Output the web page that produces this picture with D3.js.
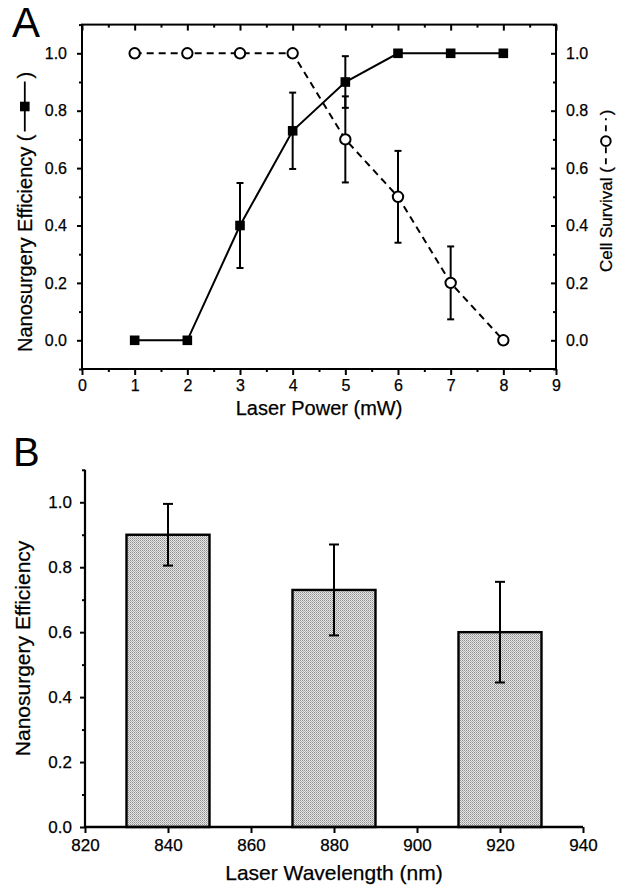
<!DOCTYPE html>
<html><head><meta charset="utf-8">
<script src="https://cdn.jsdelivr.net/npm/d3@7"></script>
<style>
html,body{margin:0;padding:0;background:#fff;}
svg{display:block;font-family:"Liberation Sans",Arial,sans-serif;}
</style></head>
<body>
<svg id="chart" width="623" height="886"></svg>
<script>
// ---- Panel A data ----
const powers = [1, 2, 3, 4, 5, 6, 7, 8];
const efficiency = [0, 0, 0.4, 0.73, 0.9, 1, 1, 1];
const efficiencyErr = [0, 0, 0.148, 0.133, 0.09, 0, 0, 0];
const survival = [1, 1, 1, 1, 0.7, 0.5, 0.2, 0];
const survivalErr = [0, 0, 0, 0, 0.15, 0.16, 0.127, 0];
const powerTicks = [0, 1, 2, 3, 4, 5, 6, 7, 8, 9];
const powerMinor = [0.5, 1.5, 2.5, 3.5, 4.5, 5.5, 6.5, 7.5, 8.5];
const fracTicks = [0, 0.2, 0.4, 0.6, 0.8, 1.0];
const fracMinorA = [-0.1, 0.1, 0.3, 0.5, 0.7, 0.9, 1.1];
// ---- Panel B data ----
const wavelengths = [840, 880, 920];
const wlEfficiency = [0.9, 0.73, 0.6];
const wlErr = [0.095, 0.14, 0.155];
const wlTicks = [820, 840, 860, 880, 900, 920, 940];
const fracMinorB = [0.1, 0.3, 0.5, 0.7, 0.9, 1.1];
const barWidthNm = 20;

const svg = d3.select("#chart");
const black = "#000";
const TICKF = 16, TITLEF = 20;

// pattern for bars
const defs = svg.append("defs");
const pat = defs.append("pattern").attr("id", "grain").attr("width", 2).attr("height", 2)
  .attr("patternUnits", "userSpaceOnUse");
pat.append("rect").attr("width", 2).attr("height", 2).attr("fill", "#e6e6e6");
pat.append("rect").attr("width", 1).attr("height", 1).attr("fill", "#8e8e8e");
pat.append("rect").attr("x", 1).attr("y", 1).attr("width", 1).attr("height", 1).attr("fill", "#b0b0b0");

// ================= Panel A =================
const xA = d3.scaleLinear().domain([0, 9]).range([82, 556]);
const yA = d3.scaleLinear().domain([-0.1, 1.1]).range([369, 24.6]);
const gA = svg.append("g");

function styleAxis(g, fs) {
  g.select(".domain").remove();
  g.selectAll("line").attr("stroke", black).attr("stroke-width", 2);
  g.selectAll("text").attr("font-size", fs).attr("fill", black)
    .attr("stroke", black).attr("stroke-width", 0.25);
}

// bottom
gA.append("g").attr("transform", `translate(0,${yA(-0.1)})`)
  .call(d3.axisBottom(xA).tickValues(powerTicks).tickFormat(d3.format("d")).tickSize(6).tickPadding(5))
  .call(g => styleAxis(g, TICKF));
gA.append("g").attr("transform", `translate(0,${yA(-0.1)})`)
  .call(d3.axisBottom(xA).tickValues(powerMinor).tickFormat("").tickSize(3))
  .call(g => styleAxis(g, TICKF));
// top (inward)
gA.append("g").attr("transform", `translate(0,${yA(1.1)})`)
  .call(d3.axisBottom(xA).tickValues(powerTicks).tickFormat("").tickSize(6))
  .call(g => styleAxis(g, TICKF));
gA.append("g").attr("transform", `translate(0,${yA(1.1)})`)
  .call(d3.axisBottom(xA).tickValues(powerMinor).tickFormat("").tickSize(3))
  .call(g => styleAxis(g, TICKF));
// left
gA.append("g").attr("transform", `translate(${xA(0)},0)`)
  .call(d3.axisLeft(yA).tickValues(fracTicks).tickFormat(d3.format(".1f")).tickSize(5).tickPadding(10))
  .call(g => styleAxis(g, TICKF));
gA.append("g").attr("transform", `translate(${xA(0)},0)`)
  .call(d3.axisLeft(yA).tickValues(fracMinorA).tickFormat("").tickSize(3))
  .call(g => styleAxis(g, TICKF));
// right (ticks inward, labels outside)
const rA = gA.append("g").attr("transform", `translate(${xA(9)},0)`)
  .call(d3.axisLeft(yA).tickValues(fracTicks).tickFormat(d3.format(".1f")).tickSize(5))
  .call(g => styleAxis(g, TICKF));
rA.selectAll("text").attr("x", 10).attr("text-anchor", "start");
gA.append("g").attr("transform", `translate(${xA(9)},0)`)
  .call(d3.axisLeft(yA).tickValues(fracMinorA).tickFormat("").tickSize(3))
  .call(g => styleAxis(g, TICKF));
// frame
gA.append("rect").attr("x", xA(0)).attr("y", yA(1.1))
  .attr("width", xA(9) - xA(0)).attr("height", yA(-0.1) - yA(1.1))
  .attr("fill", "none").attr("stroke", black).attr("stroke-width", 2);

// lines
const effData = powers.map((p, i) => ({x: p, y: efficiency[i], e: efficiencyErr[i]}));
const survData = powers.map((p, i) => ({x: p, y: survival[i], e: survivalErr[i]}));
const lineA = d3.line().x(d => xA(d.x)).y(d => yA(d.y));
gA.append("path").datum(survData).attr("d", lineA).attr("fill", "none")
  .attr("stroke", black).attr("stroke-width", 2).attr("stroke-dasharray", "7,5");
gA.append("path").datum(effData).attr("d", lineA).attr("fill", "none")
  .attr("stroke", black).attr("stroke-width", 2);

// error bars
function errBars(g, data, xs, ys, cap) {
  const eb = g.append("g").selectAll("g").data(data.filter(d => d.e > 0)).join("g");
  eb.append("line").attr("x1", d => xs(d.x)).attr("x2", d => xs(d.x))
    .attr("y1", d => ys(d.y - d.e)).attr("y2", d => ys(d.y + d.e))
    .attr("stroke", black).attr("stroke-width", 2);
  eb.append("line").attr("x1", d => xs(d.x) - cap).attr("x2", d => xs(d.x) + cap)
    .attr("y1", d => ys(d.y + d.e)).attr("y2", d => ys(d.y + d.e))
    .attr("stroke", black).attr("stroke-width", 2);
  eb.append("line").attr("x1", d => xs(d.x) - cap).attr("x2", d => xs(d.x) + cap)
    .attr("y1", d => ys(d.y - d.e)).attr("y2", d => ys(d.y - d.e))
    .attr("stroke", black).attr("stroke-width", 2);
}
errBars(gA, effData, xA, yA, 3.5);
errBars(gA, survData, xA, yA, 3.5);

// markers
gA.append("g").selectAll("circle").data(survData).join("circle")
  .attr("cx", d => xA(d.x)).attr("cy", d => yA(d.y)).attr("r", 5.2)
  .attr("fill", "#fff").attr("stroke", black).attr("stroke-width", 2);
gA.append("g").selectAll("rect").data(effData).join("rect")
  .attr("x", d => xA(d.x) - 4.8).attr("y", d => yA(d.y) - 4.8)
  .attr("width", 9.6).attr("height", 9.6).attr("fill", black);

// titles
gA.append("text").attr("x", (xA(0) + xA(9)) / 2).attr("y", 415).attr("text-anchor", "middle")
  .attr("font-size", TITLEF).attr("stroke", black).attr("stroke-width", 0.25).text("Laser Power (mW)");
svg.append("text").attr("x", 12).attr("y", 37).attr("font-size", 42).text("A");

// rotated title with legend symbol
function rotTitleWithSymbol(x, yStart, text, fs, symbol, lineLen) {
  const g = svg.append("g").attr("transform", `translate(${x},${yStart}) rotate(-90)`);
  const t = g.append("text").attr("x", 0).attr("y", 0).attr("font-size", fs)
    .attr("stroke", black).attr("stroke-width", 0.25).text(text + "  (");
  const len = t.node().getComputedTextLength();
  const cy = -fs * 0.36;
  const s0 = len + 3, s1 = s0 + lineLen;
  const ln = g.append("line").attr("x1", s0).attr("x2", s1).attr("y1", cy).attr("y2", cy)
    .attr("stroke", black).attr("stroke-width", 1.8);
  if (symbol === "square") {
    g.append("rect").attr("x", (s0 + s1) / 2 - 4.8).attr("y", cy - 4.8).attr("width", 9.6).attr("height", 9.6).attr("fill", black);
  } else {
    ln.attr("stroke-dasharray", "6,5");
    g.append("circle").attr("cx", (s0 + s1) / 2).attr("cy", cy).attr("r", 4.8)
      .attr("fill", "#fff").attr("stroke", black).attr("stroke-width", 2);
  }
  g.append("text").attr("x", s1 + 3).attr("y", 0).attr("font-size", fs)
    .attr("stroke", black).attr("stroke-width", 0.25).text(")");
}
rotTitleWithSymbol(32, 352, "Nanosurgery Efficiency", TITLEF, "square", 50);
rotTitleWithSymbol(612, 272, "Cell Survival", 17, "circle", 46);

// ================= Panel B =================
const xB = d3.scaleLinear().domain([820, 940]).range([85, 583]);
const yB = d3.scaleLinear().domain([0, 1.1]).range([827, 469.8]);
const gB = svg.append("g");

const barData = wavelengths.map((w, i) => ({x: w, y: wlEfficiency[i], e: wlErr[i]}));
gB.append("g").selectAll("rect").data(barData).join("rect")
  .attr("x", d => xB(d.x - barWidthNm / 2)).attr("y", d => yB(d.y))
  .attr("width", d => xB(d.x + barWidthNm / 2) - xB(d.x - barWidthNm / 2))
  .attr("height", d => yB(0) - yB(d.y))
  .attr("fill", "url(#grain)").attr("stroke", black).attr("stroke-width", 2.4);
errBars(gB, barData, xB, yB, 5);

gB.append("g").attr("transform", `translate(0,${yB(0)})`)
  .call(d3.axisBottom(xB).tickValues(wlTicks).tickFormat(d3.format("d")).tickSize(6).tickPadding(6))
  .call(g => styleAxis(g, TICKF + 1));
gB.append("g").attr("transform", `translate(${xB(820)},0)`)
  .call(d3.axisLeft(yB).tickValues(fracTicks).tickFormat(d3.format(".1f")).tickSize(5).tickPadding(8))
  .call(g => styleAxis(g, TICKF + 1));
gB.append("g").attr("transform", `translate(${xB(820)},0)`)
  .call(d3.axisLeft(yB).tickValues(fracMinorB).tickFormat("").tickSize(3))
  .call(g => styleAxis(g, TICKF));
gB.append("line").attr("x1", xB(820)).attr("x2", xB(940)).attr("y1", yB(0)).attr("y2", yB(0))
  .attr("stroke", black).attr("stroke-width", 2.4);
gB.append("line").attr("x1", xB(820)).attr("x2", xB(820)).attr("y1", yB(0)).attr("y2", yB(1.1))
  .attr("stroke", black).attr("stroke-width", 2.2);

gB.append("text").attr("x", (xB(820) + xB(940)) / 2).attr("y", 880).attr("text-anchor", "middle")
  .attr("font-size", TITLEF + 1).attr("stroke", black).attr("stroke-width", 0.25).text("Laser Wavelength (nm)");
gB.append("text").attr("transform", `translate(30,${yB(0.55)}) rotate(-90)`).attr("text-anchor", "middle")
  .attr("font-size", TITLEF + 1).attr("stroke", black).attr("stroke-width", 0.25).text("Nanosurgery Efficiency");
svg.append("text").attr("x", 13).attr("y", 466).attr("font-size", 40).text("B");
</script>
</body></html>
